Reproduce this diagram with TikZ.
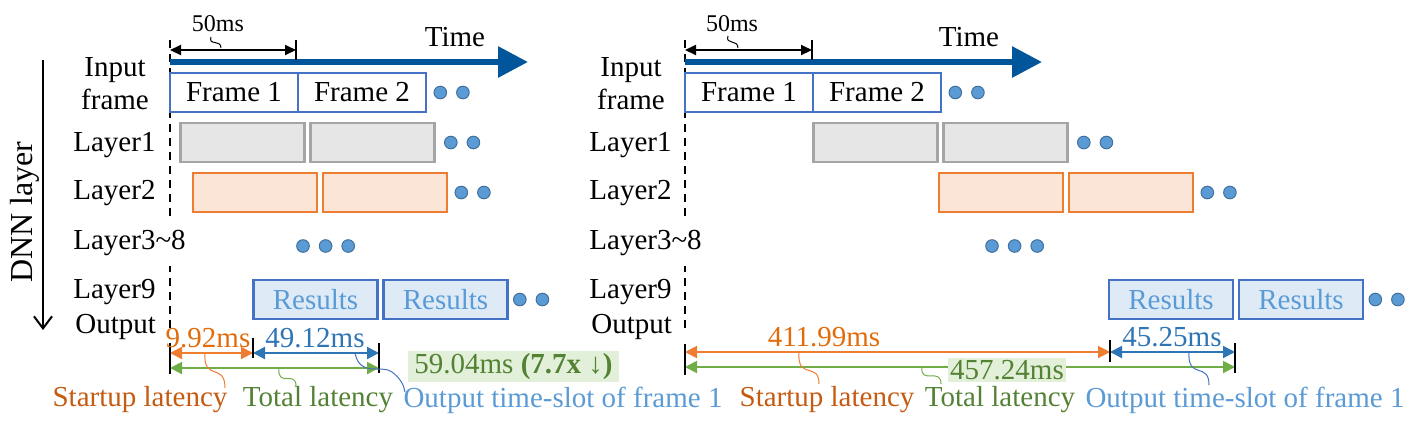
\documentclass[tikz,border=0pt]{standalone}
\usepackage{fontspec}
\setmainfont{Liberation Serif}
\usetikzlibrary{positioning,arrows.meta}

\definecolor{timeblue}{HTML}{00559B}
\definecolor{frameblue}{HTML}{4472C4}
\definecolor{layergray}{HTML}{A5A5A5}
\definecolor{layergrayfill}{HTML}{E7E6E6}
\definecolor{layerorange}{HTML}{ED7D31}
\definecolor{layerorangefill}{HTML}{FBE5D6}
\definecolor{resultfill}{HTML}{DEEBF7}
\definecolor{resulttext}{HTML}{5B9BD5}
\definecolor{dotdraw}{HTML}{41719C}
\definecolor{startorange}{HTML}{C55A11}
\definecolor{numorange}{HTML}{E36C0A}
\definecolor{slotblue}{HTML}{2E75B6}
\definecolor{totalgreen}{HTML}{70AD47}
\definecolor{totaltext}{HTML}{548235}
\definecolor{totalfill}{HTML}{E2F0D9}

\begin{document}
\begin{tikzpicture}[x=0.5pt,y=-0.5pt,font=\fontsize{14.5}{16.5}\selectfont,
  framebox/.style={draw=frameblue,line width=1pt,fill=white,minimum width=64pt,minimum height=19.5pt,inner sep=0pt,outer sep=0pt},
  grayslot/.style={draw=layergray,fill=layergrayfill,line width=1.2pt,minimum width=62pt,minimum height=19.5pt,inner sep=0pt,outer sep=0pt},
  orangeslot/.style={draw=layerorange,fill=layerorangefill,line width=1.2pt,minimum width=62pt,minimum height=19.5pt,inner sep=0pt,outer sep=0pt},
  resultslot/.style={draw=frameblue,fill=resultfill,text=resulttext,line width=1.2pt,minimum width=62pt,minimum height=19.5pt,inner sep=0pt,outer sep=0pt},
  seqdot/.style={circle,draw=dotdraw,fill=resulttext,line width=0.5pt,minimum size=6.3pt,inner sep=0pt,outer sep=0pt},
  rowlabel/.style={anchor=west,inner sep=0pt},
  dashline/.style={line width=0.8pt,dash pattern=on 4pt off 3pt},
  timearrow/.style={timeblue,line width=3pt,-{Triangle[length=15pt,width=15pt]}},
  msarrow/.style={line width=1pt,{Triangle[length=5.5pt,width=5pt]}-{Triangle[length=5.5pt,width=5pt]}},
  dimarrow/.style={line width=1pt,{Triangle[length=6pt,width=6pt]}-{Triangle[length=6pt,width=6pt]}},
  dimtick/.style={line width=0.6pt},
  wiggle/.style={line width=0.5pt},
  numlabel/.style={inner sep=0pt}]
\useasboundingbox (0,0) rectangle (1424,436);

% DNN layer axis
\coordinate (dnna) at (43,60);
\coordinate (dnnb) at (43,330);
\draw[line width=1pt,-{Straight Barb[length=6pt,width=9pt]}] (dnna) -- (dnnb);
\node[rotate=90,font=\fontsize{16}{18}\selectfont] (dnn) at (25,212) {DNN layer};

% ---------------- left panel ----------------
\coordinate (Lda) at (170,40);
\coordinate (Ldb) at (170,330);
\draw[dashline] (Lda) -- (Ldb);

\coordinate (Lta) at (170,62);
\coordinate (Ltb) at (528,62);
\draw[timearrow] (Lta) -- (Ltb);
\node (Ltime) at (455,37) {Time};

\coordinate (Lma) at (170,50);
\coordinate (Lmb) at (296,50);
\draw[msarrow] (Lma) -- (Lmb);
\draw[dimtick] ([yshift=5pt]Lmb) -- ([yshift=-5pt]Lmb);
\node[font=\fontsize{12}{14}\selectfont] (Lms) at (218,24) {50ms};
\coordinate (Lmw) at (221,48);
\draw[wiggle] (211,37) .. controls (208,46) and (221,39) .. (Lmw);

\node[align=center] (Lin) at (115,84) {Input\\frame};
\node[rowlabel] (Ll1) at (73,145) {Layer1};
\node[rowlabel] (Ll2) at (73,193) {Layer2};
\node[rowlabel,fill=white,inner ysep=5pt] (Ll3) at (73,243) {Layer3\textasciitilde 8};
\node[rowlabel] (Ll9) at (73,292) {Layer9};
\node[rowlabel] (Lout) at (75,327) {Output};

\node[framebox] (Lf1) at (234,92.5) {Frame 1};
\node[framebox,right=0pt of Lf1] (Lf2) {Frame 2};
\node[seqdot,right=4pt of Lf2] (Lfd1) {};
\node[seqdot,right=5pt of Lfd1] (Lfd2) {};

\node[grayslot] (Lg1a) at (242.5,142.5) {};
\node[grayslot,right=3pt of Lg1a] (Lg1b) {};
\node[seqdot,right=5pt of Lg1b] (Lgd1) {};
\node[seqdot,right=5pt of Lgd1] (Lgd2) {};

\node[orangeslot] (Lo2a) at (255,192.5) {};
\node[orangeslot,right=3pt of Lo2a] (Lo2b) {};
\node[seqdot,right=4pt of Lo2b] (Lod1) {};
\node[seqdot,right=5pt of Lod1] (Lod2) {};

\node[seqdot] (Lmd1) at (303,246) {};
\node[seqdot,right=5pt of Lmd1] (Lmd2) {};
\node[seqdot,right=5pt of Lmd2] (Lmd3) {};

\node[resultslot] (Lr1) at (315.5,299.5) {Results};
\node[resultslot,right=3pt of Lr1] (Lr2) {Results};
\node[seqdot,right=3pt of Lr2] (Lrd1) {};
\node[seqdot,right=5pt of Lrd1] (Lrd2) {};

\coordinate (Ls0) at (170,353);
\coordinate (Ls1) at (253,353);
\coordinate (Ls2) at (379,353);
\coordinate (Lt0) at (170,368);
\coordinate (Lt2) at (379,368);
\draw[dimarrow,layerorange] (Ls0) -- (Ls1);
\draw[dimarrow,slotblue] (Ls1) -- (Ls2);
\draw[dimarrow,totalgreen] (Lt0) -- (Lt2);
\draw[dimtick] ([yshift=5pt]Ls0) -- ([yshift=-3pt]Lt0);
\draw[dimtick] ([yshift=7.5pt]Ls1) -- ([yshift=-2.5pt]Ls1);
\draw[dimtick] ([yshift=5pt]Ls2) -- ([yshift=-2.5pt]Lt2);

\node[numlabel,text=numorange] (Lsv) at (208,338) {9.92ms};
\node[numlabel,text=slotblue] (Lov) at (315,338) {49.12ms};
\node[fill=totalfill,text=totaltext,inner xsep=3pt,inner ysep=1pt] (Ltv) at (513.5,366.5) {59.04ms \textbf{(7.7x ↓)}};

\node[text=startorange] (Lsl) at (140,400) {Startup latency};
\node[text=totaltext] (Ltl) at (318,400) {Total latency};
\node[text=resulttext] (Lol) at (563,400) {Output time-slot of frame 1};

\coordinate (Lsw) at (205,353);
\coordinate (Ltw) at (279,368);
\coordinate (Low) at (355,353);
\draw[wiggle,layerorange] (Lsw) .. controls (203,382) and (225,362) .. (225,388);
\draw[wiggle,totalgreen] (Ltw) .. controls (277,388) and (296,370) .. (296,386);
\draw[wiggle,frameblue] (Low) .. controls (360,378) and (382,364) .. (392,372) .. controls (400,378) and (404,385) .. (405,392);

% ---------------- right panel ----------------
\coordinate (Rda) at (685,40);
\coordinate (Rdb) at (685,330);
\draw[dashline] (Rda) -- (Rdb);

\coordinate (Rta) at (685,62);
\coordinate (Rtb) at (1042,62);
\draw[timearrow] (Rta) -- (Rtb);
\node (Rtime) at (969,37) {Time};

\coordinate (Rma) at (685,50);
\coordinate (Rmb) at (812,50);
\draw[msarrow] (Rma) -- (Rmb);
\draw[dimtick] ([yshift=5pt]Rmb) -- ([yshift=-5pt]Rmb);
\node[font=\fontsize{12}{14}\selectfont] (Rms) at (732,24) {50ms};
\coordinate (Rmw) at (738,48);
\draw[wiggle] (728,36) .. controls (725,45) and (738,39) .. (Rmw);

\node[align=center] (Rin) at (631,84) {Input\\frame};
\node[rowlabel] (Rl1) at (589,145) {Layer1};
\node[rowlabel] (Rl2) at (589,193) {Layer2};
\node[rowlabel,fill=white,inner ysep=5pt] (Rl3) at (589,243) {Layer3\textasciitilde 8};
\node[rowlabel] (Rl9) at (589,292) {Layer9};
\node[rowlabel] (Rout) at (591,327) {Output};

\node[framebox] (Rf1) at (749,92.5) {Frame 1};
\node[framebox,right=0pt of Rf1] (Rf2) {Frame 2};
\node[seqdot,right=4pt of Rf2] (Rfd1) {};
\node[seqdot,right=5pt of Rfd1] (Rfd2) {};

\node[grayslot] (Rg1a) at (875.5,142.5) {};
\node[grayslot,right=3pt of Rg1a] (Rg1b) {};
\node[seqdot,right=5pt of Rg1b] (Rgd1) {};
\node[seqdot,right=5pt of Rgd1] (Rgd2) {};

\node[orangeslot] (Ro2a) at (1001,192.5) {};
\node[orangeslot,right=3pt of Ro2a] (Ro2b) {};
\node[seqdot,right=4pt of Ro2b] (Rod1) {};
\node[seqdot,right=5pt of Rod1] (Rod2) {};

\node[seqdot] (Rmd1) at (992,246) {};
\node[seqdot,right=5pt of Rmd1] (Rmd2) {};
\node[seqdot,right=5pt of Rmd2] (Rmd3) {};

\node[resultslot] (Rr1) at (1171,299.5) {Results};
\node[resultslot,right=3pt of Rr1] (Rr2) {Results};
\node[seqdot,right=3pt of Rr2] (Rrd1) {};
\node[seqdot,right=5pt of Rrd1] (Rrd2) {};

\coordinate (Rs0) at (685,352);
\coordinate (Rs1) at (1110,352);
\coordinate (Rs2) at (1235,352);
\coordinate (Rt0) at (685,367);
\coordinate (Rt2) at (1235,367);
\draw[dimarrow,layerorange] (Rs0) -- (Rs1);
\draw[dimarrow,slotblue] (Rs1) -- (Rs2);
\draw[dimarrow,totalgreen] (Rt0) -- (Rt2);
\draw[dimtick] ([yshift=4pt]Rs0) -- ([yshift=-4pt]Rt0);
\draw[dimtick] ([yshift=6pt]Rs1) -- ([yshift=-5pt]Rs1);
\draw[dimtick] ([yshift=4.5pt]Rs2) -- ([yshift=-3pt]Rt2);

\node[numlabel,text=numorange] (Rsv) at (824,337) {411.99ms};
\node[numlabel,text=slotblue] (Rov) at (1172,337) {45.25ms};
\node[fill=totalfill,text=totaltext,inner xsep=1pt,inner ysep=1pt] (Rtv) at (1007,370) {457.24ms};

\node[text=startorange] (Rsl) at (827,400) {Startup latency};
\node[text=totaltext] (Rtl) at (1000,400) {Total latency};
\node[text=resulttext] (Rol) at (1245,400) {Output time-slot of frame 1};

\coordinate (Rsw) at (799,352);
\coordinate (Rtw) at (922,367);
\coordinate (Row) at (1189,351);
\draw[wiggle,layerorange] (Rsw) .. controls (797,381) and (819,361) .. (819,384);
\draw[wiggle,totalgreen] (Rtw) .. controls (920,385) and (941,367) .. (941,384);
\draw[wiggle,frameblue] (Row) .. controls (1187,381) and (1209,361) .. (1209,385);
\end{tikzpicture}
\end{document}
